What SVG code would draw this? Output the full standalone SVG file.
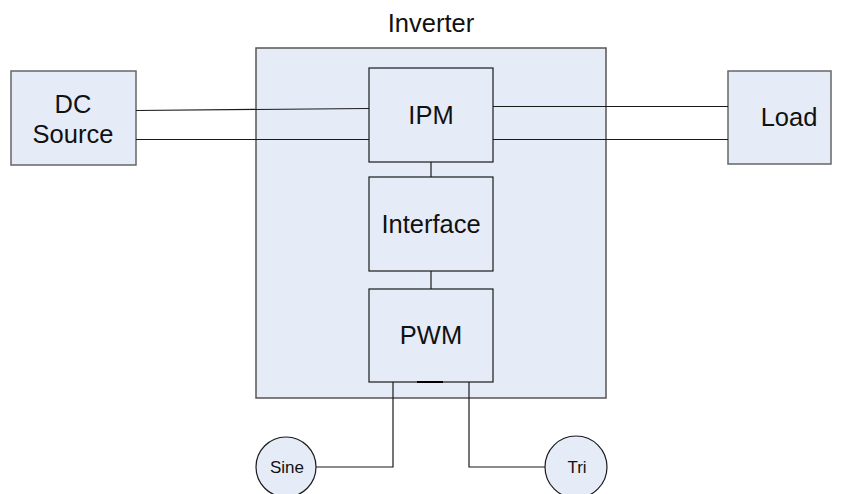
<svg xmlns="http://www.w3.org/2000/svg" width="841" height="494" viewBox="0 0 841 494">
  <style>
    .box { fill: #e6ecf7; stroke: #1a1a1a; stroke-width: 1.2; }
    .outer { fill: #e6ecf7; stroke: #555; stroke-width: 1.5; }
    .side { fill: #e6ecf7; stroke: #666; stroke-width: 1.5; }
    .wire { fill: none; stroke: #1a1a1a; stroke-width: 1.2; }
    .lbl { font-family: "Liberation Sans", Arial, sans-serif; font-size: 25.5px; fill: #111; text-anchor: middle; }
    .sm { font-size: 17px; }
  </style>
  <rect width="841" height="494" fill="#ffffff"/>

  <!-- inverter enclosure -->
  <g id="inverter">
    <rect class="outer" x="256" y="48" width="350" height="350"/>
    <text class="lbl" x="431" y="32">Inverter</text>
  </g>

  <g id="dc-source">
    <rect class="side" x="11" y="71" width="125" height="94"/>
    <text class="lbl" x="73" y="113">DC</text>
    <text class="lbl" x="73" y="143">Source</text>
  </g>

  <g id="load">
    <rect class="side" x="728" y="71" width="103" height="93"/>
    <text class="lbl" x="789" y="126">Load</text>
  </g>

  <!-- connectors -->
  <g id="connectors">
    <path class="wire" d="M136 110.5 L369 108.5"/>
    <path class="wire" d="M136 139.5 L369 139.5"/>
    <path class="wire" d="M493 106.5 L728 106.5"/>
    <path class="wire" d="M493 139.5 L728 139.5"/>
    <path class="wire" d="M431 162 L431 177"/>
    <path class="wire" d="M431 271 L431 289"/>
    <path class="wire" d="M393 382 L393 467 L316 467"/>
    <path class="wire" d="M469 382 L469 467 L545 467"/>
  </g>

  <g id="ipm">
    <rect class="box" x="369" y="68" width="124" height="94"/>
    <text class="lbl" x="431" y="124">IPM</text>
  </g>

  <g id="interface">
    <rect class="box" x="369" y="177" width="124" height="94"/>
    <text class="lbl" x="431" y="233">Interface</text>
  </g>

  <g id="pwm">
    <rect class="box" x="369" y="289" width="124" height="93"/>
    <path d="M417 382 L443 382" stroke="#000" stroke-width="2"/>
    <text class="lbl" x="431" y="344">PWM</text>
  </g>

  <g id="sine">
    <circle class="box" cx="286" cy="467" r="30"/>
    <text class="lbl sm" x="287" y="473">Sine</text>
  </g>

  <g id="tri">
    <circle class="box" cx="576" cy="467" r="31"/>
    <text class="lbl sm" x="577" y="473">Tri</text>
  </g>
</svg>
